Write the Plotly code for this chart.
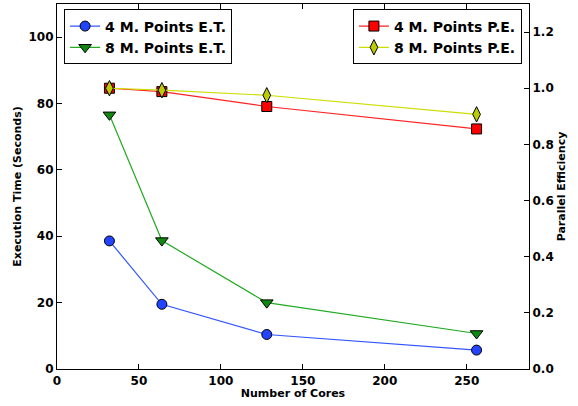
import plotly.graph_objects as go

cores = [32, 64, 128, 256]
et_4m = [38.6, 19.5, 10.4, 5.7]
et_8m = [76.6, 38.7, 20.0, 10.7]
pe_4m = [1.0, 0.988, 0.935, 0.855]
pe_8m = [1.0, 0.993, 0.975, 0.907]

x_ticks = [0, 50, 100, 150, 200, 250]
y_left_ticks = [0, 20, 40, 60, 80, 100]
y_right_ticks = [0.0, 0.2, 0.4, 0.6, 0.8, 1.0, 1.2]

FONT = "DejaVu Sans"
fig = go.Figure()

fig.add_trace(go.Scatter(x=cores, y=et_4m, name="4 M. Points E.T.", mode="lines+markers",
                         line=dict(color="#3355ff", width=1.2),
                         marker=dict(symbol="circle", size=10, color="#2244ff",
                                     line=dict(color="#000000", width=1)),
                         legend="legend"))
fig.add_trace(go.Scatter(x=cores, y=et_8m, name="8 M. Points E.T.", mode="lines+markers",
                         line=dict(color="#22aa22", width=1.2),
                         marker=dict(symbol="triangle-down", size=11, color="#118811",
                                     line=dict(color="#000000", width=1)),
                         legend="legend"))
fig.add_trace(go.Scatter(x=cores, y=pe_4m, name="4 M. Points P.E.", mode="lines+markers",
                         yaxis="y2",
                         line=dict(color="#ff2222", width=1.2),
                         marker=dict(symbol="square", size=10, color="#ff0000",
                                     line=dict(color="#000000", width=1)),
                         legend="legend2"))
fig.add_trace(go.Scatter(x=cores, y=pe_8m, name="8 M. Points P.E.", mode="lines+markers",
                         yaxis="y2",
                         line=dict(color="#ccdd00", width=1.2),
                         marker=dict(symbol="diamond-tall", size=11, color="#bbcc00",
                                     line=dict(color="#000000", width=1)),
                         legend="legend2"))

tickfont = dict(family=FONT, size=12, color="#000000", weight="bold")
titlefont = dict(family=FONT, size=11, color="#000000", weight="bold")
legfont = dict(family=FONT, size=14, color="#000000", weight="bold")

fig.update_layout(
    width=578, height=406,
    margin=dict(l=57, r=49, t=4, b=37),
    paper_bgcolor="white", plot_bgcolor="white",
    font=dict(family=FONT, color="#000000"),
    xaxis=dict(range=[0, 288], tickvals=x_ticks, ticks="inside", ticklen=5,
               tickcolor="#000", showline=True, linecolor="#000", linewidth=1.2,
               mirror="ticks", showgrid=False, zeroline=False, tickfont=tickfont,
               title=dict(text="Number of Cores", font=titlefont, standoff=2)),
    yaxis=dict(range=[0, 110], tickvals=y_left_ticks, ticks="inside", ticklen=5,
               tickcolor="#000", showline=True, linecolor="#000", linewidth=1.2,
               showgrid=False, zeroline=False, tickfont=tickfont,
               title=dict(text="Execution Time (Seconds)", font=titlefont, standoff=4)),
    yaxis2=dict(range=[0, 1.3], tickvals=y_right_ticks, tickformat=".1f", overlaying="y",
                side="right", ticks="inside", ticklen=5, tickcolor="#000",
                showline=True, linecolor="#000", linewidth=1.2, showgrid=False,
                zeroline=False, tickfont=tickfont,
                title=dict(text="Parallel Efficiency", font=titlefont, standoff=4)),
    legend=dict(x=0.015, y=0.985, xanchor="left", yanchor="top",
                bgcolor="white", bordercolor="#000", borderwidth=1,
                font=legfont, tracegroupgap=0, itemwidth=30),
    legend2=dict(x=0.985, y=0.985, xanchor="right", yanchor="top",
                 bgcolor="white", bordercolor="#000", borderwidth=1,
                 font=legfont, tracegroupgap=0, itemwidth=30),
    showlegend=True,
)

fig.write_html("out.html")
